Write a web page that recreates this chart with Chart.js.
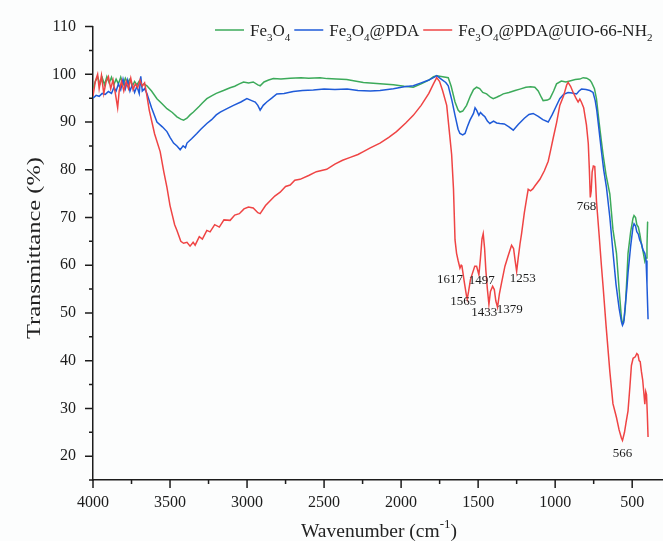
<!DOCTYPE html>
<html><head><meta charset="utf-8">
<script src="https://cdn.jsdelivr.net/npm/chart.js@4.4.1/dist/chart.umd.min.js"></script>
<style>html,body{margin:0;padding:0;background:#fcfdfd;}#wrap{width:663px;height:541px;position:relative;}</style>
</head><body><div id="wrap"><canvas id="c" width="663" height="541"></canvas></div>
<script>
const seriesNames = ['Fe₃O₄', 'Fe₃O₄@PDA', 'Fe₃O₄@PDA@UIO-66-NH₂'];
const seriesColors = ['#3caa5a', '#1e5ad8', '#ef4444'];

const fe3o4Wn = [4000,3985,3970,3955,3940,3925,3910,3895,3880,3865,3850,3835,3820,3805,3790,3775,3760,3745,3730,3715,3700,3685,3670,3650,3620,3585,3550,3520,3485,3455,3430,3412,3390,3370,3348,3310,3290,3261,3230,3200,3153,3110,3080,3050,3023,2990,2960,2930,2915,2890,2860,2829,2780,2720,2650,2600,2526,2480,2420,2353,2300,2245,2137,2050,1980,1921,1870,1820,1790,1769,1730,1694,1675,1650,1630,1618,1600,1575,1550,1530,1510,1490,1470,1445,1420,1402,1380,1360,1337,1300,1260,1229,1190,1160,1132,1110,1090,1078,1050,1034,1010,991,960,930,905,870,840,818,795,775,764,745,732,715,700,689,670,645,625,602,585,570,563,553,545,535,527,510,495,488,478,470,460,451,440,430,418,410,404,400,397];
const fe3o4T = [97.0,98.5,99.5,98.0,99.3,97.8,99.5,98.2,99.4,97.8,99.0,98.0,99.4,97.8,99.2,98.2,99.0,97.5,98.5,97.8,98.6,97.6,98.0,97.6,96.5,94.9,93.8,92.8,92.0,91.1,90.6,90.4,90.8,91.5,92.1,93.3,94.0,94.9,95.5,96.0,96.6,97.2,97.5,98.0,98.4,98.2,98.4,97.8,97.6,98.4,98.8,99.1,99.0,99.2,99.3,99.2,99.3,99.1,99.0,98.9,98.6,98.3,98.0,97.8,97.5,97.3,98.0,98.8,99.5,99.7,99.5,99.3,97.5,94.2,92.5,92.1,92.3,93.5,95.5,96.8,97.3,97.0,96.2,95.9,95.2,94.9,95.2,95.5,95.9,96.2,96.6,96.9,97.3,97.4,97.3,96.5,95.2,94.5,94.6,94.9,96.5,98.0,98.6,98.4,98.6,98.9,99.0,99.3,99.2,98.8,98.3,97.0,94.9,90.0,86.0,83.2,79.0,74.9,67.5,62.5,55.0,49.0,47.8,48.5,51.0,57.0,62.5,67.0,69.8,70.4,70.0,68.5,68.0,66.6,64.5,63.0,60.8,61.5,64.0,69.0,69.1];

const pdaWn = [4000,3980,3960,3940,3920,3900,3880,3865,3850,3835,3820,3805,3790,3775,3760,3745,3730,3715,3700,3690,3680,3665,3650,3620,3585,3550,3520,3500,3477,3455,3434,3415,3400,3390,3360,3326,3300,3261,3230,3200,3174,3130,3088,3040,3001,2970,2947,2930,2915,2895,2872,2840,2807,2760,2700,2640,2570,2500,2430,2350,2280,2200,2137,2050,1980,1921,1870,1820,1790,1769,1740,1710,1694,1670,1650,1630,1618,1600,1585,1570,1553,1530,1520,1510,1495,1485,1470,1456,1440,1424,1400,1380,1359,1330,1300,1272,1240,1200,1170,1143,1110,1080,1045,1020,995,970,945,916,890,861,845,829,800,775,754,740,730,721,700,685,667,645,624,605,585,570,563,555,545,535,527,510,495,488,478,470,460,451,440,430,418,410,404,397];
const pdaT = [95.0,95.6,95.4,96.0,95.8,96.4,96.0,97.2,96.5,98.0,96.8,99.0,97.0,98.8,96.5,97.8,96.2,97.5,96.0,99.6,96.5,97.0,96.0,93.0,90.0,89.0,88.0,86.8,85.6,85.0,84.2,85.0,84.6,85.6,86.5,87.6,88.5,89.7,90.5,91.5,92.1,92.8,93.5,94.2,94.9,94.5,94.2,93.5,92.5,93.5,94.2,95.0,95.9,96.0,96.4,96.6,96.7,96.9,96.8,96.9,96.6,96.5,96.6,97.0,97.4,97.6,98.2,98.8,99.3,99.7,99.0,98.3,97.6,94.5,91.4,88.5,87.6,87.3,87.6,89.0,90.4,91.8,93.0,92.5,91.4,92.0,91.5,91.1,90.2,89.7,90.2,89.8,89.7,89.6,89.0,88.3,89.5,90.8,91.6,91.8,91.2,90.5,90.0,91.5,93.2,94.9,95.8,96.2,96.1,95.9,96.5,96.9,96.8,96.6,96.2,94.5,92.5,90.0,84.0,80.0,76.3,70.0,62.5,56.0,51.0,48.2,47.4,48.0,51.5,55.0,58.4,64.0,68.0,68.7,68.2,67.0,66.5,65.3,64.5,63.2,62.5,61.0,56.0,48.7];

const uioWn = [4000,3985,3970,3960,3945,3930,3915,3900,3885,3870,3855,3840,3830,3815,3800,3785,3770,3755,3740,3725,3710,3695,3680,3665,3650,3635,3600,3564,3540,3520,3500,3470,3455,3430,3412,3390,3370,3350,3337,3310,3290,3261,3240,3210,3180,3150,3110,3080,3050,3020,2991,2960,2930,2915,2880,2850,2820,2785,2750,2720,2690,2656,2600,2550,2483,2430,2380,2330,2280,2245,2200,2137,2080,2030,1970,1921,1870,1820,1790,1769,1750,1730,1704,1690,1672,1660,1650,1640,1630,1618,1610,1605,1590,1575,1571,1562,1550,1535,1522,1510,1495,1485,1475,1467,1458,1450,1440,1430,1420,1406,1395,1385,1374,1362,1348,1326,1305,1283,1270,1260,1250,1240,1228,1218,1200,1185,1175,1160,1145,1132,1099,1070,1045,1030,1013,990,970,945,925,916,900,883,865,851,840,830,815,805,797,785,778,772,766,760,752,743,737,732,715,700,689,670,645,625,602,585,570,563,550,540,527,515,505,494,480,470,462,455,448,440,432,425,418,412,407,402,397];
const uioT = [95.5,98.5,100,97.0,99.8,96.0,98.5,99.5,97.0,98.8,96.0,93.0,96.5,98.6,96.5,98.5,97.0,99.2,96.8,98.0,97.2,98.8,97.5,98.2,95.5,92.5,87.5,83.8,79.5,76.3,72.5,68.5,67.3,65.0,64.6,64.8,64.0,64.8,64.2,66.0,65.5,67.3,67.0,68.5,68.0,69.5,69.4,70.5,70.8,71.8,72.2,72.0,71.0,70.8,72.5,73.5,74.5,75.3,76.5,76.8,77.8,78.0,78.8,79.6,80.1,81.2,82.0,82.6,83.2,83.8,84.6,85.6,86.8,88.0,89.8,91.4,93.5,96.0,98.0,99.3,98.5,96.5,93.5,89.0,83.2,76.0,65.3,62.5,61.0,59.4,60.0,59.8,56.5,53.5,52.9,54.5,57.0,58.5,59.8,59.8,58.0,61.5,65.5,66.6,63.5,59.0,55.0,51.8,54.5,55.6,54.9,52.5,51.2,54.0,56.3,59.8,62.0,64.2,63.5,61.0,58.7,61.5,64.5,66.6,71.0,74.0,75.9,75.6,76.0,76.6,78.0,79.8,81.8,84.0,86.6,90.0,93.5,95.5,97.8,98.3,97.5,96.2,95.0,94.2,94.8,94.2,93.0,91.0,89.4,85.5,80.0,74.2,75.5,79.5,80.8,80.7,77.0,73.5,66.5,60.0,55.6,47.5,37.7,31.0,28.1,25.5,23.8,23.3,25.0,27.0,29.5,34.5,39.0,40.5,40.8,41.5,41.2,40.0,39.8,37.7,36.0,33.5,30.9,33.5,32.9,29.0,24.0];

const xTickValues = [4000, 3500, 3000, 2500, 2000, 1500, 1000, 500];
const xMinorTicks = [3750, 3250, 2750, 2250, 1750, 1250, 750];
const yTickValues = [20, 30, 40, 50, 60, 70, 80, 90, 100, 110];
const yMinorTicks = [15, 25, 35, 45, 55, 65, 75, 85, 95, 105];

const peakLabels = ['1617', '1497', '1565', '1433', '1379', '1253', '768', '566'];
const peakLabelWn = [1683, 1477, 1597, 1460, 1294, 1211, 796, 563];
const peakLabelT = [57.0, 56.7, 52.3, 50.1, 50.8, 57.2, 72.2, 20.5];

const SERIF = '"Liberation Serif", "Times New Roman", serif';
const INK = '#1c1c1c';

function toPoints(xs, ys) { return xs.map((x, i) => ({ x: x, y: ys[i] })); }

const SUBS = {'₀':'0','₁':'1','₂':'2','₃':'3','₄':'4','₅':'5','₆':'6','₇':'7','₈':'8','₉':'9'};
const SUPS = {'⁻':'-','¹':'1','²':'2','³':'3'};
function segments(text) {
  const segs = [];
  for (const ch of text) {
    let kind = 'n', c = ch;
    if (SUBS[ch]) { kind = 'sub'; c = SUBS[ch]; }
    else if (SUPS[ch]) { kind = 'sup'; c = SUPS[ch]; }
    const last = segs[segs.length - 1];
    if (last && last.kind === kind) last.t += c; else segs.push({ kind: kind, t: c });
  }
  return segs;
}
function richWidth(ctx, text, size) {
  let w = 0;
  for (const s of segments(text)) {
    ctx.font = (s.kind === 'n' ? size : Math.round(size * 0.65)) + 'px ' + SERIF;
    w += ctx.measureText(s.t).width;
  }
  return w;
}
function drawRich(ctx, text, x, y, size) {
  ctx.textBaseline = 'alphabetic';
  ctx.textAlign = 'left';
  for (const s of segments(text)) {
    const sz = s.kind === 'n' ? size : Math.round(size * 0.65);
    ctx.font = sz + 'px ' + SERIF;
    const dy = s.kind === 'sub' ? size * 0.28 : (s.kind === 'sup' ? -size * 0.42 : 0);
    ctx.fillText(s.t, x, y + dy);
    x += ctx.measureText(s.t).width;
  }
  return x;
}

const decorPlugin = {
  id: 'decor',
  beforeDraw(chart) {
    const ctx = chart.ctx;
    ctx.save();
    ctx.fillStyle = '#fcfdfd';
    ctx.fillRect(0, 0, chart.width, chart.height);
    ctx.restore();
  },
  afterDraw(chart) {
    const ctx = chart.ctx;
    const xs = chart.scales.x, ys = chart.scales.y;
    const area = chart.chartArea;
    ctx.save();
    ctx.strokeStyle = INK;
    ctx.lineWidth = 1.5;
    ctx.beginPath();
    for (const v of xTickValues) { const p = xs.getPixelForValue(v); ctx.moveTo(p, area.bottom); ctx.lineTo(p, area.bottom + 8); }
    for (const v of xMinorTicks) { const p = xs.getPixelForValue(v); ctx.moveTo(p, area.bottom); ctx.lineTo(p, area.bottom + 4); }
    for (const v of yTickValues) { const p = ys.getPixelForValue(v); ctx.moveTo(area.left, p); ctx.lineTo(area.left - 8, p); }
    for (const v of yMinorTicks) { const p = ys.getPixelForValue(v); ctx.moveTo(area.left, p); ctx.lineTo(area.left - 4, p); }
    ctx.stroke();

    // peak labels
    ctx.fillStyle = INK;
    ctx.font = '13px ' + SERIF;
    ctx.textAlign = 'center';
    ctx.textBaseline = 'middle';
    peakLabels.forEach((t, i) => {
      ctx.fillText(t, xs.getPixelForValue(peakLabelWn[i]), ys.getPixelForValue(peakLabelT[i]));
    });

    // legend
    let lx = 215;
    const ly = 30;
    chart.data.datasets.forEach((ds, i) => {
      ctx.strokeStyle = ds.borderColor;
      ctx.lineWidth = 1.5;
      ctx.beginPath();
      ctx.moveTo(lx, ly); ctx.lineTo(lx + 29, ly);
      ctx.stroke();
      ctx.fillStyle = '#222';
      const end = drawRich(ctx, ds.label, lx + 35, ly + 6, 17);
      lx = end + 4;
    });

    // x title
    const xt = 'Wavenumber (cm⁻¹)';
    const w = richWidth(ctx, xt, 19.5);
    ctx.fillStyle = '#222';
    drawRich(ctx, xt, 379 - w / 2, 536.5, 19.5);

    // y title
    const yt = 'Transmittance (%)';
    ctx.font = '19.5px ' + SERIF;
    const yw = ctx.measureText(yt).width;
    ctx.translate(40, 248);
    ctx.rotate(-Math.PI / 2);
    ctx.scale(182 / yw, 1);
    ctx.textAlign = 'center';
    ctx.textBaseline = 'alphabetic';
    ctx.fillText(yt, 0, 0);
    ctx.restore();
  }
};

const datasets = [
  { label: seriesNames[0], data: toPoints(fe3o4Wn, fe3o4T), borderColor: seriesColors[0], order: 3 },
  { label: seriesNames[1], data: toPoints(pdaWn, pdaT), borderColor: seriesColors[1], order: 2 },
  { label: seriesNames[2], data: toPoints(uioWn, uioT), borderColor: seriesColors[2], order: 1 }
].map(d => Object.assign(d, { borderWidth: 1.5, pointRadius: 0, tension: 0, fill: false, showLine: true }));

new Chart(document.getElementById('c'), {
  type: 'line',
  data: { datasets: datasets },
  options: {
    responsive: false,
    devicePixelRatio: 1,
    animation: false,
    events: [],
    layout: { padding: { top: 20, left: 0, right: 0, bottom: 0 } },
    plugins: { legend: { display: false }, tooltip: { enabled: false } },
    scales: {
      x: {
        type: 'linear', reverse: true, min: 300, max: 4000,
        afterBuildTicks: s => { s.ticks = xTickValues.map(v => ({ value: v })); },
        afterFit: s => { s.height = 61; },
        grid: { display: false, drawTicks: false, tickLength: 0 },
        border: { display: true, color: INK, width: 1.5 },
        ticks: { autoSkip: false, maxRotation: 0, padding: 13, color: INK, font: { family: SERIF, size: 16 }, callback: v => String(v) }
      },
      y: {
        type: 'linear', min: 15, max: 110,
        afterBuildTicks: s => { s.ticks = yTickValues.map(v => ({ value: v })); },
        afterFit: s => { s.width = 93; },
        grid: { display: false, drawTicks: false, tickLength: 0 },
        border: { display: true, color: INK, width: 1.5 },
        ticks: { autoSkip: false, padding: 17, color: INK, font: { family: SERIF, size: 16 }, callback: v => String(v) }
      }
    }
  },
  plugins: [decorPlugin]
});
</script></body></html>
